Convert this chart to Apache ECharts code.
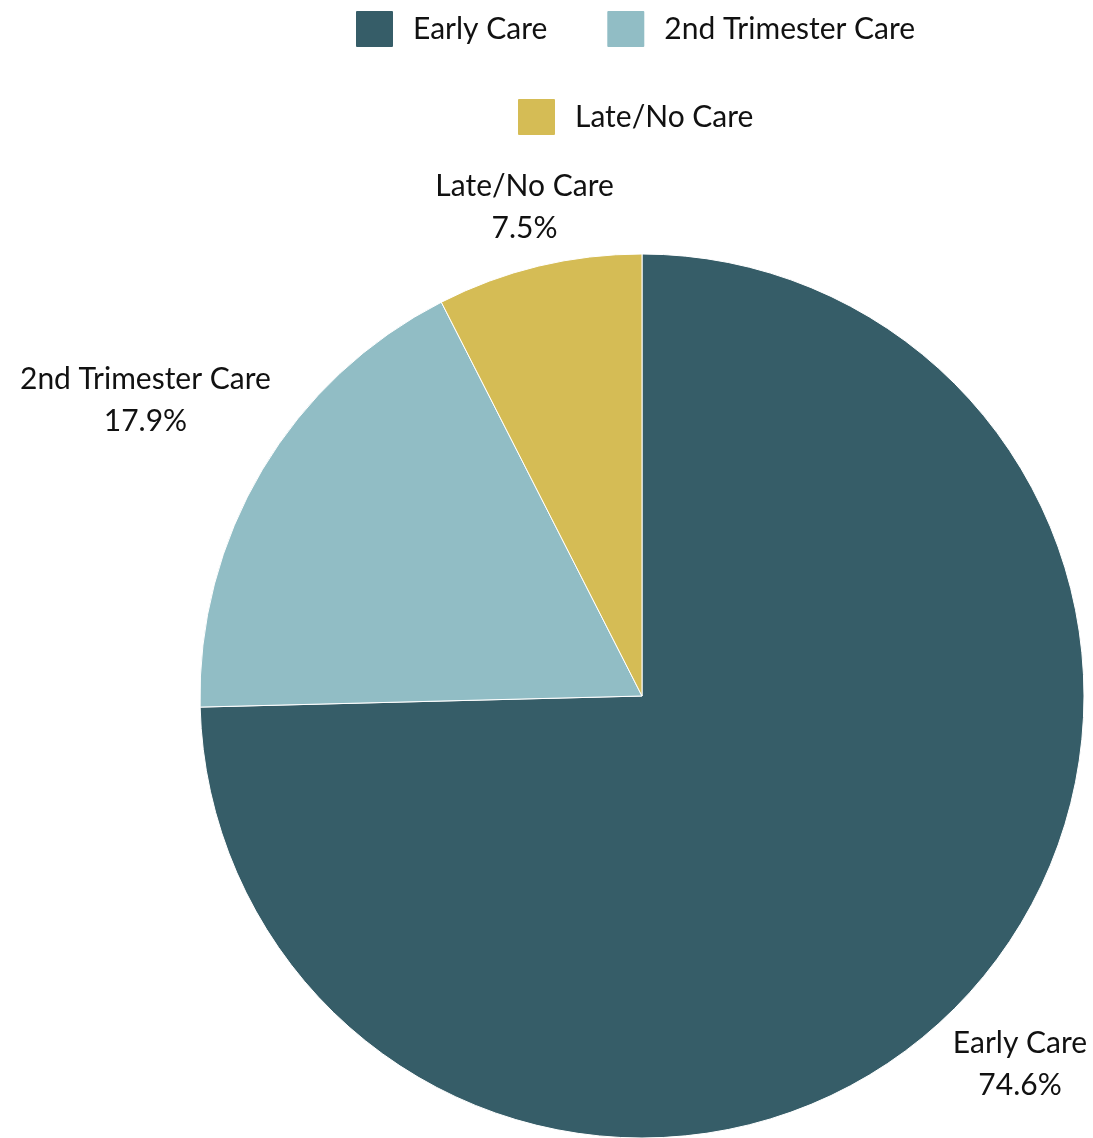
<!DOCTYPE html>
<html>
<head>
<meta charset="utf-8">
<script src="https://cdn.jsdelivr.net/npm/echarts@6/dist/echarts.min.js"></script>
<style>
  html, body { margin: 0; padding: 0; background: #fff; }
  #chart { width: 1093px; height: 1138px; }
</style>
</head>
<body>
<div id="chart"></div>
<script>
// Timing of prenatal care entry (share of births)
const categories = ['Early Care', '2nd Trimester Care', 'Late/No Care'];
const shares = [74.6, 17.9, 7.5];
const colors = ['#365d68', '#91bdc5', '#d5bc55'];

const FONT = 'Lato, "Open Sans", sans-serif';
const CENTER = [642, 696];
const RADIUS = 442;
// radial distance of each label's centre from the pie centre
const labelRadius = [528, 578, 503];

const total = shares.reduce((a, b) => a + b, 0);
// mid angle of each slice, clockwise from 12 o'clock
const midAngles = [];
let acc = 0;
shares.forEach(v => {
  midAngles.push((acc + v / 2) / total * 2 * Math.PI);
  acc += v;
});

const chart = echarts.init(document.getElementById('chart'), null, { renderer: 'canvas' });

// square swatch with slightly rounded corners
const SWATCH = 'path://M2,0H37Q39,0 39,2V36Q39,38 37,38H2Q0,38 0,36V2Q0,0 2,0Z';

const legendCommon = {
  orient: 'horizontal',
  icon: SWATCH,
  itemWidth: 39,
  itemHeight: 38,
  itemGap: 58,
  textStyle: { fontFamily: FONT, fontSize: 30, color: '#111', padding: [0, 0, 0, 14] },
  selectedMode: false
};

chart.setOption({
  animation: false,
  color: colors,
  legend: [
    Object.assign({}, legendCommon, { data: categories.slice(0, 2), left: 349, top: 4 }),
    Object.assign({}, legendCommon, { data: categories.slice(2), left: 511, top: 92 })
  ],
  series: [{
    type: 'pie',
    center: CENTER,
    radius: RADIUS,
    startAngle: 90,
    clockwise: true,
    avoidLabelOverlap: false,
    itemStyle: { borderColor: '#fff', borderWidth: 1 },
    label: {
      show: true,
      position: 'outside',
      fontFamily: FONT,
      fontSize: 30,
      lineHeight: 42,
      color: '#111',
      align: 'center',
      formatter: p => p.name + '\n' + shares[p.dataIndex].toFixed(1) + '%'
    },
    labelLine: { show: false },
    labelLayout: function (params) {
      const i = params.dataIndex;
      const a = midAngles[i];
      const d = labelRadius[i];
      return {
        x: CENTER[0] + Math.sin(a) * d,
        y: CENTER[1] - Math.cos(a) * d,
        align: 'center',
        verticalAlign: 'middle'
      };
    },
    emphasis: { disabled: true },
    data: categories.map((c, i) => ({ name: c, value: shares[i] }))
  }]
});
</script>
</body>
</html>
